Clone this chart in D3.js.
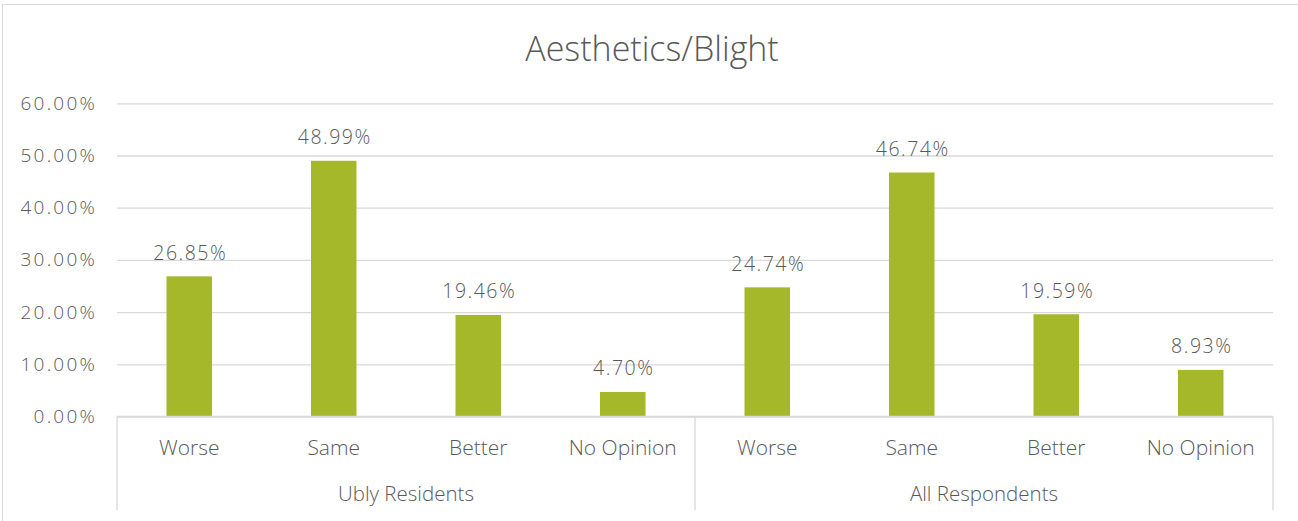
<!DOCTYPE html>
<html><head><meta charset="utf-8">
<script src="https://cdn.jsdelivr.net/npm/d3@7"></script>
<style>body{margin:0;background:#fff;}svg{display:block;font-family:"Open Sans",sans-serif;}</style>
</head><body>
<svg id="c" width="1298" height="521"></svg>
<script>
const groups = ["Ubly Residents", "All Respondents"];
const categories = ["Worse", "Same", "Better", "No Opinion"];
const values = [
  [26.85, 48.99, 19.46, 4.70],
  [24.74, 46.74, 19.59, 8.93]
];
const yTicks = [0, 10, 20, 30, 40, 50, 60];
const title = "Aesthetics/Blight";

const svg = d3.select("#c");
const W = 1298, H = 521;
const m = {left:117, right:1273, top:103.3, bottom:416.5};
const textCol = "#595959", gridCol = "#d9d9d9", barCol = "#a5b82a";
const FW = 300;

svg.append("rect").attr("x",2.5).attr("y",4.5).attr("width",W+10).attr("height",H+10)
  .attr("fill","#fff").attr("stroke","#d9d9d9");

svg.append("text").attr("x",652).attr("y",61).attr("text-anchor","middle")
  .attr("font-size",34).attr("font-weight",FW).attr("fill",textCol).text(title);

const keys = [];
groups.forEach((g,gi)=>categories.forEach((c,ci)=>keys.push({g,gi,c,ci,v:values[gi][ci],k:gi+"-"+ci})));

const x = d3.scaleBand().domain(keys.map(d=>d.k)).range([m.left,m.right]).paddingInner(0.685).paddingOuter(0.3425);
const y = d3.scaleLinear().domain([0,60]).range([m.bottom,m.top]);

const yAxis = d3.axisLeft(y).tickValues(yTicks).tickSize(-(m.right-m.left)).tickFormat(d=>d.toFixed(2)+"%").tickPadding(20);
const ga = svg.append("g").attr("transform",`translate(${m.left},0)`).call(yAxis);
ga.select(".domain").remove();
ga.selectAll(".tick line").attr("stroke",gridCol).attr("stroke-width",1.3);
ga.selectAll(".tick text").attr("fill",textCol).attr("font-size",19).attr("font-weight",FW)
  .attr("letter-spacing",2.2).attr("font-family","\"Open Sans\",sans-serif");

svg.append("g").selectAll("rect").data(keys).join("rect")
  .attr("x",d=>x(d.k)).attr("width",x.bandwidth())
  .attr("y",d=>y(d.v)).attr("height",d=>y(0)-y(d.v)).attr("fill",barCol);

svg.append("g").selectAll("text").data(keys).join("text")
  .attr("x",d=>x(d.k)+x.bandwidth()/2+1).attr("y",d=>y(d.v)-16.5)
  .attr("text-anchor","middle").attr("font-size",19.5).attr("font-weight",FW).attr("letter-spacing",1.5).attr("fill",textCol)
  .text(d=>d.v.toFixed(2)+"%");

// category axis
const ax = svg.append("g");
ax.append("line").attr("x1",m.left).attr("x2",m.right).attr("y1",m.bottom).attr("y2",m.bottom).attr("stroke",gridCol).attr("stroke-width",1.3);
const step = x.step();
[m.left, x(groups.length-1+"-0") - x.paddingInner()*step/2, m.right].forEach(px=>{
  ax.append("line").attr("x1",px).attr("x2",px).attr("y1",m.bottom).attr("y2",510).attr("stroke",gridCol).attr("stroke-width",1.3);
});
ax.selectAll("text.cat").data(keys).join("text").attr("class","cat")
  .attr("x",d=>x(d.k)+x.bandwidth()/2).attr("y",455).attr("text-anchor","middle")
  .attr("font-size",21).attr("font-weight",FW).attr("fill",textCol).text(d=>d.c);
ax.selectAll("text.grp").data(groups).join("text").attr("class","grp")
  .attr("x",(d,gi)=>(x(gi+"-0")+x(gi+"-"+(categories.length-1))+x.bandwidth())/2).attr("y",501).attr("text-anchor","middle")
  .attr("font-size",20.5).attr("font-weight",FW).attr("fill",textCol).text(d=>d);
</script>
</body></html>
